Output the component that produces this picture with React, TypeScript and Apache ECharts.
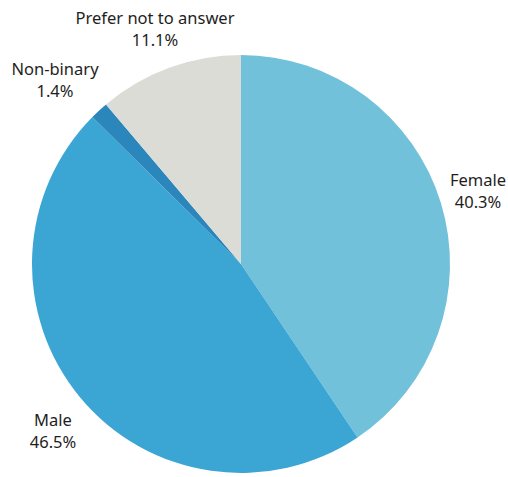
import React, { useEffect, useRef } from "react";
import * as echarts from "echarts";

const categories = ["Female", "Male", "Non-binary", "Prefer not to answer"];
const values = [40.3, 46.5, 1.4, 11.1];
const colors = ["#72c1da", "#3ba5d3", "#2a86bb", "#dcdcd7"];
// label anchor positions (centre of the two-line label block)
const labelPos: [number, number][] = [
  [478, 190],
  [53, 430],
  [55, 79.5],
  [155, 28.5],
];

export default function App() {
  const ref = useRef<HTMLDivElement>(null);
  useEffect(() => {
    if (!ref.current) return;
    const chart = echarts.init(ref.current, null, { renderer: "svg" });
    chart.setOption({
      animation: false,
      backgroundColor: "#ffffff",
      graphic: categories.map((name, i) => ({
        type: "text",
        x: labelPos[i][0],
        y: labelPos[i][1],
        style: {
          text: `${name}\n${values[i].toFixed(1)}%`,
          fontFamily: "Noto Sans",
          fontSize: 16.5,
          lineHeight: 22,
          fill: "#1e1e1e",
          align: "center",
          verticalAlign: "middle",
        },
      })),
      series: [
        {
          type: "pie",
          center: [241, 264],
          radius: 209,
          startAngle: 90,
          clockwise: true,
          data: categories.map((name, i) => ({
            name,
            value: values[i],
            itemStyle: { color: colors[i] },
          })),
          label: { show: false },
          labelLine: { show: false },
          emphasis: { disabled: true },
        },
      ],
    });
    return () => chart.dispose();
  }, []);
  return (
    <div
      ref={ref}
      style={{ position: "fixed", left: 0, top: 0, width: 508, height: 477 }}
    />
  );
}
